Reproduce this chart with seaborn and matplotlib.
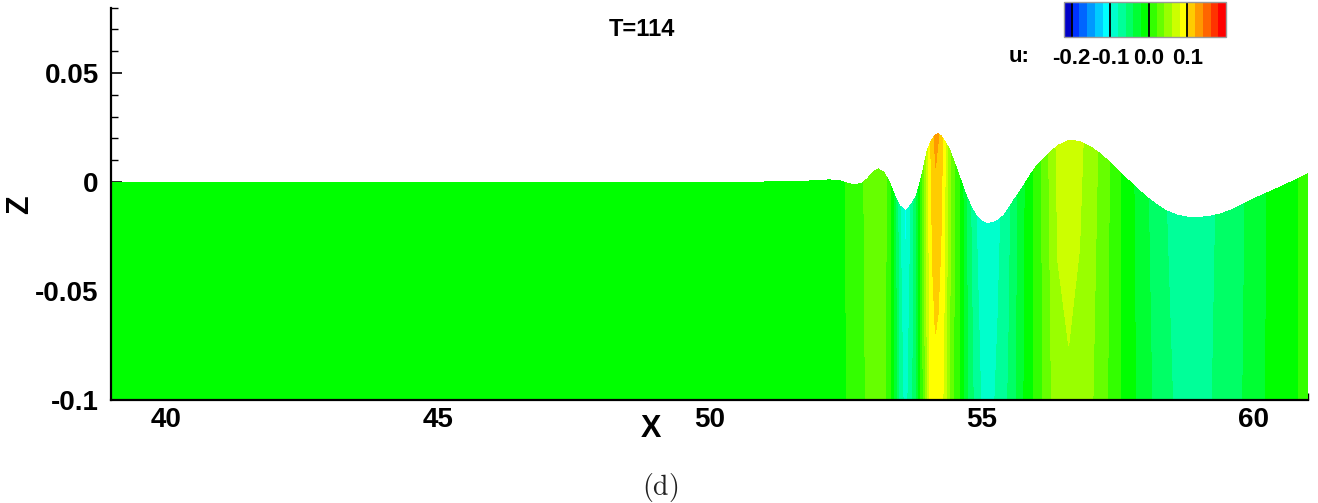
import numpy as np
import matplotlib
matplotlib.use("Agg")
import matplotlib.pyplot as plt
from matplotlib.colors import ListedColormap, BoundaryNorm
import matplotlib.colorbar as mcolorbar
from matplotlib.ticker import MultipleLocator
import seaborn as sns

# ---------------- data ----------------
x_nodes = [39, 40, 41, 42, 43, 44, 45, 46, 47, 48, 49, 50, 51, 51.5,
           52.0, 52.2, 52.4, 52.6, 52.7, 52.8, 52.9, 53.0, 53.1, 53.2, 53.3, 53.4,
           53.5, 53.6, 53.7, 53.8, 53.9, 54.0, 54.05, 54.1, 54.15, 54.2, 54.25,
           54.3, 54.4, 54.5, 54.6, 54.7, 54.8, 54.9, 55.0, 55.1, 55.2, 55.3, 55.4,
           55.5, 55.6, 55.7, 55.8, 55.9, 56.0, 56.2, 56.4, 56.6, 56.8, 57.0, 57.2,
           57.4, 57.6, 57.8, 58.0, 58.2, 58.4, 58.6, 58.8, 59.0, 59.2, 59.4, 59.6,
           59.8, 60.0, 60.2, 60.4, 60.6, 60.8, 61.0]

# free-surface elevation z at each node
eta = [0.0, 0.0, 0.0, 0.0, 0.0, 0.0, 0.0, 0.0, 0.0, 0.0, 0.0, 0.0, 0.0, 0.0002,
       0.0006, 0.001, 0.0005, -0.001, -0.0012, -0.0005, 0.0015, 0.0045, 0.006, 0.0045,
       0.0003, -0.006, -0.011, -0.0132, -0.0105, -0.0063, 0.003, 0.0145, 0.0175,
       0.0200, 0.0216, 0.0221, 0.0213, 0.0195, 0.0155, 0.009, 0.002, -0.005, -0.011,
       -0.0155, -0.0180, -0.0190, -0.0187, -0.0175, -0.0155, -0.012, -0.008, -0.0045,
       -0.0005, 0.0035, 0.007, 0.0122, 0.0168, 0.0190, 0.0187, 0.0162, 0.0126, 0.0080,
       0.0030, -0.0015, -0.0062, -0.0100, -0.0133, -0.0152, -0.0162, -0.0163, -0.0157,
       -0.0146, -0.0127, -0.0102, -0.0077, -0.0055, -0.0033, -0.0010, 0.0013, 0.0037]

# horizontal velocity u at the free surface and at the bed
u_surface = [-0.005] * 14 + [
    -0.005, -0.005, -0.005, 0.005, 0.01, 0.015, 0.03, 0.035, 0.035, 0.03, 0.01, -0.03,
    -0.08, -0.105, -0.08, -0.045, 0.01, 0.07, 0.095, 0.112, 0.124, 0.121, 0.11,
    0.095, 0.05, 0.02, 0.0, -0.035, -0.06, -0.08, -0.095, -0.1, -0.095, -0.085, -0.075,
    -0.065, -0.05, -0.035, -0.02, -0.005, 0.005, 0.035, 0.065, 0.075, 0.065, 0.05, 0.035,
    0.015, -0.005, -0.02, -0.035, -0.05, -0.06, -0.068, -0.072, -0.072, -0.065, -0.055,
    -0.048, -0.042, -0.032, -0.022, -0.012, -0.005, -0.002, 0.01]
u_bed = [-0.005] * 14 + [
    -0.005, -0.005, -0.005, 0.004, 0.008, 0.012, 0.025, 0.03, 0.03, 0.025, 0.008, -0.025,
    -0.07, -0.088, -0.07, -0.04, 0.008, 0.06, 0.08, 0.088, 0.092, 0.09, 0.086,
    0.078, 0.042, 0.017, 0.0, -0.03, -0.052, -0.07, -0.082, -0.086, -0.083, -0.076, -0.067,
    -0.058, -0.045, -0.03, -0.017, -0.004, 0.004, 0.03, 0.054, 0.056, 0.053, 0.043, 0.03,
    0.013, -0.004, -0.018, -0.031, -0.045, -0.055, -0.064, -0.068, -0.068, -0.062, -0.052,
    -0.045, -0.04, -0.03, -0.021, -0.011, -0.005, -0.002, 0.01]

bed_level = -0.1
levels = [round(-0.2 + 0.02 * i, 2) for i in range(20)]        # -0.2 ... 0.18
band_colors = ["#0000c8",
               "#0033ff", "#0066ff", "#0099ff", "#00ccff", "#00ffff",
               "#00ffcc", "#00ff99", "#00ff66", "#00ff33", "#00ff00",
               "#33ff00", "#66ff00", "#99ff00", "#ccff00", "#ffff00",
               "#ffcc00", "#ff9900", "#ff6600", "#ff3300",
               "#ff0000"]
cbar_ticks = [-0.2, -0.1, 0.0, 0.1]
cbar_labels = ["-0.2", "-0.1", "0.0", "0.1"]
x_ticks = [40, 45, 50, 55, 60]
y_ticks = [-0.1, -0.05, 0, 0.05]
y_ticklabels = ["-0.1", "-0.05", "0", "0.05"]

# ---------------- style ----------------
sns.set_theme(style="ticks")
plt.rcParams["font.family"] = ["Liberation Sans", "DejaVu Sans"]
plt.rcParams["font.weight"] = "bold"
plt.rcParams["mathtext.fontset"] = "cm"

W, H = 1318, 503
fig = plt.figure(figsize=(W / 100, H / 100), dpi=100)
fig.patch.set_facecolor("white")
ax = fig.add_axes([111.3 / W, (H - 400) / H, 1196.7 / W, 392.4 / H])
ax.set_facecolor("white")

xa = np.asarray(x_nodes, float)
X = np.vstack([xa, xa])
Z = np.vstack([np.full_like(xa, bed_level), np.asarray(eta, float)])
U = np.vstack([np.asarray(u_bed, float), np.asarray(u_surface, float)])

all_levels = [-10.0] + levels + [10.0]
ax.contourf(X, Z, U, levels=all_levels, colors=band_colors, antialiased=False)

ax.set_xlim(39, 61)
ax.set_ylim(-0.1, 0.08)
sns.despine(ax=ax, top=True, right=True)
for s in ("left", "bottom"):
    ax.spines[s].set_linewidth(1.6)
    ax.spines[s].set_color("black")

ax.set_xticks(x_ticks)
ax.set_xticklabels([str(t) for t in x_ticks])
ax.set_yticks(y_ticks)
ax.set_yticklabels(y_ticklabels)
ax.xaxis.set_minor_locator(MultipleLocator(1))
ax.yaxis.set_minor_locator(MultipleLocator(0.01))
ax.tick_params(which="major", direction="in", length=8, width=1.2, color="black",
               labelsize=20, labelcolor="black")
ax.tick_params(which="minor", direction="in", length=5, width=1.0, color="black")
ax.tick_params(axis="y", which="major", pad=9)
ax.tick_params(axis="x", which="major", pad=5)
ax.grid(False)

fig.text(651 / W, 1 - 429 / H, "X", ha="center", va="center", fontsize=22,
         fontweight="bold", color="black")
fig.text(20 / W, 1 - 205 / H, "Z", ha="center", va="center", fontsize=22,
         fontweight="bold", rotation=90, color="black")
fig.text(642 / W, 1 - 29 / H, "T=114", ha="center", va="center", fontsize=17,
         fontweight="bold", color="black")
fig.text(660 / W, 1 - 488 / H, r"$\mathrm{(d)}$", ha="center", va="center",
         fontsize=20, color="#222222")

# ---------------- colour legend ----------------
cax = fig.add_axes([1064 / W, 1 - 37 / H, 162 / W, 35 / H])
bounds = [-0.21] + levels + [0.19]
cmap = ListedColormap(band_colors)
norm = BoundaryNorm(bounds, cmap.N)
cb = mcolorbar.ColorbarBase(cax, cmap=cmap, norm=norm, boundaries=bounds,
                            orientation="horizontal", ticks=cbar_ticks)
cb.set_ticklabels(cbar_labels)
cb.minorticks_off()
cb.outline.set_edgecolor("#9a9a9a")
cb.outline.set_linewidth(1.0)
cax.tick_params(which="both", length=0, labelsize=16, pad=8, labelcolor="black")
for t in cbar_ticks:
    cax.axvline(t, color="black", lw=1.3)
fig.text(1019 / W, 1 - 57 / H, "u:", ha="center", va="center", fontsize=16,
         fontweight="bold", color="black")

fig.savefig("out.png", dpi=100, facecolor="white")
